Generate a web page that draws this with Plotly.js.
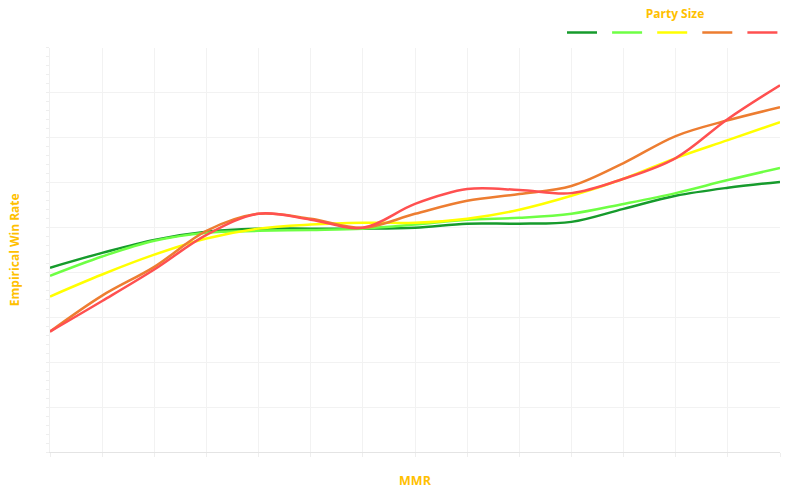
<!DOCTYPE html>
<html>
<head>
<meta charset="utf-8">
<script src="https://cdn.plot.ly/plotly-3.0.1.min.js"></script>
<style>
  body { margin: 0; background: #fff; }
  #chart { width: 800px; height: 500px; }
</style>
</head>
<body>
<div id="chart"></div>
<script>
// MMR buckets along the x axis
var mmr = [0, 1, 2, 3, 4, 5, 6, 7, 8, 9, 10, 11, 12, 13, 14]

// empirical win rate per party size (axis units)
var party1 = [4.10, 4.43, 4.72, 4.90, 4.97, 4.97, 4.97, 4.99, 5.08, 5.08, 5.12, 5.41, 5.70, 5.88, 6.01]
var party2 = [3.92, 4.35, 4.70, 4.88, 4.92, 4.94, 4.97, 5.06, 5.17, 5.21, 5.30, 5.52, 5.76, 6.05, 6.32]
var party3 = [3.46, 3.95, 4.39, 4.75, 4.97, 5.06, 5.10, 5.10, 5.19, 5.39, 5.70, 6.08, 6.54, 6.94, 7.34]
var party4 = [2.68, 3.48, 4.12, 4.92, 5.30, 5.19, 4.99, 5.30, 5.59, 5.74, 5.92, 6.43, 7.03, 7.38, 7.67]
var party5 = [2.68, 3.36, 4.06, 4.83, 5.30, 5.17, 4.99, 5.52, 5.85, 5.83, 5.76, 6.08, 6.54, 7.41, 8.16]

var seriesList = [party1, party2, party3, party4, party5]
var colors = ['#169B2C', '#6EFF44', '#FFFF00', '#ED7D31', '#FF5050']
var gold = '#FFC000'

var data = []
for (var i = 0; i < seriesList.length; i++) {
  data.push({
    x: mmr,
    y: seriesList[i],
    type: 'scatter',
    mode: 'lines',
    name: ' ',
    line: { color: colors[i], width: 2.5, shape: 'spline', smoothing: 1 },
    hoverinfo: 'skip'
  })
}

var layout = {
  width: 800,
  height: 500,
  paper_bgcolor: '#ffffff',
  plot_bgcolor: '#ffffff',
  font: { family: 'Open Sans, sans-serif', color: gold },
  margin: { l: 50, r: 20, t: 46, b: 48 },
  showlegend: true,
  legend: {
    orientation: 'h',
    xref: 'container', x: 0.985, xanchor: 'right',
    yref: 'container', y: 0.995, yanchor: 'top',
    entrywidth: 0.1, entrywidthmode: 'pixels',
    itemwidth: 30,
    tracegroupgap: 0,
    font: { size: 1, color: '#fff' },
    title: { text: '<b>Party Size</b>', side: 'top center', font: { size: 12, color: gold } }
  },
  xaxis: {
    range: [0, 14],
    dtick: 1,
    showticklabels: false,
    showgrid: true,
    gridcolor: '#f2f2f2',
    showline: true,
    linecolor: '#e4e4e4',
    ticks: 'outside',
    ticklen: 4,
    tickcolor: '#eeeeee',
    zeroline: false,
    title: { text: '<b>MMR</b>', font: { size: 12.5, color: gold }, standoff: 20 }
  },
  yaxis: {
    range: [0, 9],
    dtick: 1,
    showticklabels: false,
    showgrid: true,
    gridcolor: '#f2f2f2',
    showline: true,
    linecolor: '#f0f0f0',
    ticks: 'outside',
    ticklen: 3,
    tickcolor: '#eeeeee',
    minor: { dtick: 0.2, ticks: 'outside', ticklen: 3, tickcolor: '#eeeeee', showgrid: false },
    zeroline: false,
    title: { text: '<b>Empirical Win Rate</b>', font: { size: 12, color: gold }, standoff: 23 }
  }
}

Plotly.newPlot('chart', data, layout, { displayModeBar: false, staticPlot: true })
</script>
</body>
</html>
